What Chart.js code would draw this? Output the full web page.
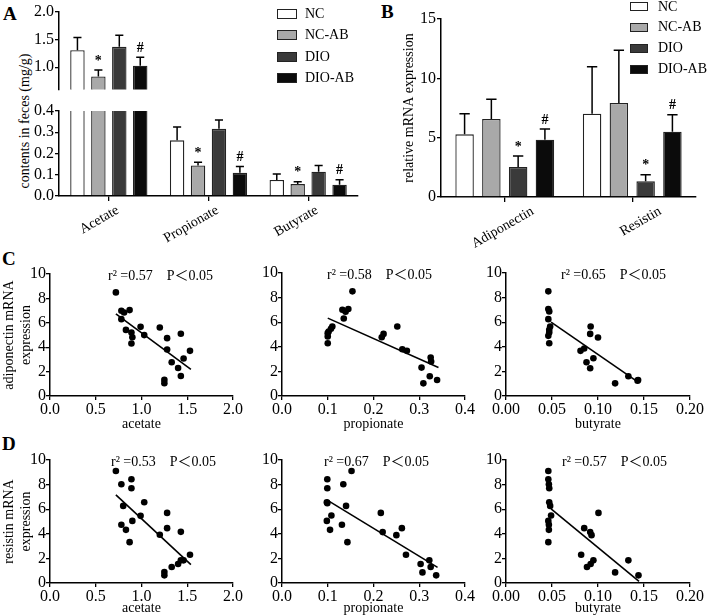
<!DOCTYPE html>
<html>
<head>
<meta charset="utf-8">
<script src="https://cdn.jsdelivr.net/npm/chart.js@4.4.0/dist/chart.umd.min.js"></script>
<style>
  body { margin: 0; background: #fff; }
  #wrap { position: relative; width: 709px; height: 616px; overflow: hidden; font-family: 'Liberation Serif', serif; color: #000; }
  #wrap canvas { position: absolute; }
  .letter { position: absolute; font-weight: bold; font-size: 19px; line-height: 1; }
  .ytitle { position: absolute; font-size: 14px; white-space: nowrap; transform: translate(-50%, -50%) rotate(-90deg); }
  .leg { position: absolute; font-size: 14px; line-height: 1; }
  .leg span.box { position: absolute; border: 1.3px solid #222; box-sizing: border-box; }
  .leg span.lab { position: absolute; white-space: nowrap; transform: translateY(-50%); }
</style>
</head>
<body>
<div id="wrap">
  <div class="letter" style="left:3px;top:4px">A</div>
  <div class="letter" style="left:381px;top:2px">B</div>
  <div class="letter" style="left:2px;top:249px">C</div>
  <div class="letter" style="left:2px;top:434px">D</div>
  <div class="ytitle" style="left:25px;top:121px">contents in feces (mg/g)</div>

  <canvas id="aTop" width="365" height="100" style="left:0;top:0"></canvas>
  <canvas id="aBottom" width="365" height="150" style="left:0;top:100px"></canvas>
  <canvas id="bChart" width="344" height="250" style="left:365px;top:0"></canvas>

  <canvas id="c1" width="245" height="183" style="left:0;top:250px"></canvas>
  <canvas id="c2" width="245" height="184" style="left:232px;top:249px"></canvas>
  <canvas id="c3" width="253" height="184" style="left:456px;top:249px"></canvas>
  <canvas id="d1" width="245" height="181" style="left:0;top:436px"></canvas>
  <canvas id="d2" width="245" height="181" style="left:232px;top:436px"></canvas>
  <canvas id="d3" width="253" height="181" style="left:456px;top:436px"></canvas>

  <div class="leg" id="legA"></div>
  <div class="leg" id="legB"></div>
</div>

<script>
// ---- data: panel A (short chain fatty acids) ----
const groups = ['NC', 'NC-AB', 'DIO', 'DIO-AB'];
const groupColors = ['#ffffff', '#a9a9a9', '#3a3a3a', '#0b0b0b'];

const acidLabels = ['Acetate', 'Propionate', 'Butyrate'];
const acidNC = [1.31, 0.262, 0.075];
const acidNCAB = [0.835, 0.144, 0.056];
const acidDIO = [1.37, 0.316, 0.114];
const acidDIOAB = [1.03, 0.109, 0.053];
const acidErrNC = [1.54, 0.325, 0.103];
const acidErrNCAB = [0.95, 0.159, 0.067];
const acidErrDIO = [1.58, 0.358, 0.144];
const acidErrDIOAB = [1.18, 0.139, 0.077];
const acidMarkNCAB = ['*', '*', '*'];
const acidMarkDIOAB = ['#', '#', '#'];

// ---- data: panel B (mRNA) ----
const geneLabels = ['Adiponectin', 'Resistin'];
const geneNC = [5.28, 7.02];
const geneNCAB = [6.57, 7.92];
const geneDIO = [2.53, 1.32];
const geneDIOAB = [4.83, 5.5];
const geneErrNC = [7.02, 10.98];
const geneErrNCAB = [8.23, 12.36];
const geneErrDIO = [3.46, 1.88];
const geneErrDIOAB = [5.73, 6.94];
const geneMarkDIO = ['*', '*'];
const geneMarkDIOAB = ['#', '#'];

// ---- data: panels C and D (correlations) ----
const c1X = [0.72, 0.78, 0.81, 0.87, 0.78, 0.83, 0.89, 0.90, 0.89, 0.99, 1.03, 1.20, 1.28, 1.28, 1.33, 1.43, 1.46, 1.40, 1.43, 1.53, 1.25, 1.25];
const c1Y = [8.49, 6.99, 6.85, 7.04, 6.30, 5.42, 5.21, 4.82, 4.30, 5.67, 4.99, 5.62, 4.74, 3.81, 2.77, 5.10, 3.07, 2.30, 1.64, 3.70, 1.32, 1.04];
const c2X = [0.100, 0.100, 0.100, 0.102, 0.107, 0.110, 0.132, 0.135, 0.139, 0.145, 0.154, 0.218, 0.222, 0.252, 0.263, 0.273, 0.305, 0.309, 0.325, 0.326, 0.323, 0.339];
const c2Y = [4.29, 4.84, 5.11, 5.24, 5.46, 5.65, 7.01, 6.30, 6.85, 7.07, 8.51, 4.78, 5.05, 5.65, 3.80, 3.67, 2.31, 1.03, 3.12, 2.80, 1.60, 1.30];
const c3X = [0.046, 0.046, 0.047, 0.046, 0.048, 0.047, 0.047, 0.046, 0.047, 0.092, 0.0915, 0.100, 0.081, 0.085, 0.095, 0.0875, 0.0915, 0.1186, 0.133, 0.1436, 0.143];
const c3Y = [8.51, 7.07, 6.88, 6.25, 5.65, 5.38, 5.16, 4.89, 4.29, 5.65, 5.05, 4.76, 3.67, 3.86, 3.07, 2.74, 2.26, 1.03, 1.60, 1.30, 1.25];
const d1X = [0.72, 0.78, 0.89, 0.89, 0.80, 0.78, 0.83, 0.87, 0.90, 0.99, 1.03, 1.20, 1.28, 1.28, 1.43, 1.25, 1.25, 1.33, 1.40, 1.43, 1.46, 1.53];
const d1Y = [9.11, 8.03, 8.43, 7.70, 6.27, 4.73, 4.32, 3.32, 5.05, 5.46, 6.57, 3.92, 5.70, 4.46, 4.16, 0.89, 0.62, 1.30, 1.54, 1.84, 1.84, 2.30];
const d2X = [0.099, 0.099, 0.098, 0.099, 0.098, 0.108, 0.105, 0.134, 0.140, 0.131, 0.143, 0.152, 0.216, 0.220, 0.250, 0.262, 0.271, 0.303, 0.307, 0.322, 0.325, 0.337];
const d2Y = [8.43, 7.70, 6.57, 6.49, 5.05, 5.49, 4.32, 8.03, 6.27, 4.73, 3.32, 9.11, 5.70, 4.14, 3.89, 4.46, 2.30, 1.54, 0.86, 1.84, 1.30, 0.62];
const d3X = [0.046, 0.046, 0.0466, 0.047, 0.047, 0.048, 0.049, 0.046, 0.0466, 0.0466, 0.046, 0.085, 0.0915, 0.093, 0.1005, 0.0817, 0.088, 0.092, 0.095, 0.1186, 0.133, 0.144];
const d3Y = [9.11, 8.43, 8.03, 7.70, 6.57, 6.27, 5.49, 5.05, 4.73, 4.32, 3.32, 4.46, 4.14, 3.89, 5.70, 2.30, 1.30, 1.54, 1.84, 0.86, 1.84, 0.62];

// regression line end points
const c1FitX = [0.72, 1.54], c1FitY = [6.74, 2.19];
const c2FitX = [0.100, 0.342], c2FitY = [6.33, 2.31];
const c3FitX = [0.049, 0.144], c3FitY = [6.0, 1.11];
const d1FitX = [0.72, 1.54], d1FitY = [7.16, 1.49];
const d2FitX = [0.098, 0.340], d2FitY = [6.76, 1.27];
const d3FitX = [0.049, 0.1446], d3FitY = [6.03, 0.14];

const rSquared = ['0.57', '0.58', '0.65', '0.53', '0.67', '0.57'];

const SERIF = 'Liberation Serif';
Chart.defaults.font.family = SERIF;
Chart.defaults.font.size = 15;
Chart.defaults.color = '#000';
Chart.defaults.animation = false;
Chart.defaults.plugins.legend.display = false;
Chart.defaults.plugins.tooltip.enabled = false;

const tickFont = { family: SERIF, size: 16 };
const titleFont = { family: SERIF, size: 14 };

// one-sided error bars plus * / # marks above them
const errorBars = {
  id: 'errorBars',
  afterDatasetsDraw(chart) {
    const { ctx, chartArea: area, scales: { y } } = chart;
    chart.data.datasets.forEach((ds, i) => {
      const meta = chart.getDatasetMeta(i);
      meta.data.forEach((bar, j) => {
        const yVal = y.getPixelForValue(ds.data[j]);
        const yErr = y.getPixelForValue(ds.errTop[j]);
        const cap = bar.width * 0.28;
        ctx.save();
        ctx.beginPath();
        ctx.rect(area.left, area.top, area.width, area.height);
        ctx.clip();
        ctx.strokeStyle = '#000';
        ctx.lineWidth = 1.5;
        ctx.beginPath();
        ctx.moveTo(bar.x, yVal);
        ctx.lineTo(bar.x, yErr);
        ctx.moveTo(bar.x - cap, yErr);
        ctx.lineTo(bar.x + cap, yErr);
        ctx.stroke();
        ctx.restore();
        const mark = ds.marks ? ds.marks[j] : '';
        if (mark && ds.errTop[j] >= y.min && ds.errTop[j] <= y.max) {
          ctx.save();
          ctx.fillStyle = '#000';
          ctx.font = 'bold 14px ' + SERIF;
          ctx.textAlign = 'center';
          ctx.textBaseline = 'bottom';
          ctx.fillText(mark, bar.x, yErr - 2);
          ctx.restore();
        }
      });
    });
  }
};

const axisGrid = { display: true, drawOnChartArea: false, drawTicks: true, tickLength: 4, color: '#000', lineWidth: 1.3 };
const axisBorder = { display: true, color: '#000', width: 1.5 };

function barDatasets(values, errs, marks) {
  return groups.map((g, k) => ({
    label: g,
    data: values[k],
    errTop: errs[k],
    marks: marks[k],
    backgroundColor: groupColors[k],
    borderColor: '#222',
    borderWidth: 1.3,
    categoryPercentage: 0.84,
    barPercentage: 0.69
  }));
}

const acidValues = [acidNC, acidNCAB, acidDIO, acidDIOAB];
const acidErrs = [acidErrNC, acidErrNCAB, acidErrDIO, acidErrDIOAB];
const acidMarks = [null, acidMarkNCAB, null, acidMarkDIOAB];

// Panel A, upper segment of the broken axis
new Chart(document.getElementById('aTop'), {
  type: 'bar',
  data: { labels: acidLabels, datasets: barDatasets(acidValues, acidErrs, acidMarks) },
  options: {
    responsive: false,
    layout: { padding: { top: 12, bottom: 3.3, right: 7, left: 0 } },
    scales: {
      x: { display: false },
      y: {
        min: 0.6, max: 2.0,
        afterBuildTicks: s => { s.ticks = [1.0, 1.5, 2.0].map(v => ({ value: v })); },
        afterFit: s => { s.width = 59; },
        ticks: { font: tickFont, padding: 1, autoSkip: false, callback: v => Number(v).toFixed(1) },
        grid: axisGrid, border: axisBorder
      }
    }
  },
  plugins: [errorBars]
});

// Panel A, lower segment
new Chart(document.getElementById('aBottom'), {
  type: 'bar',
  data: { labels: acidLabels, datasets: barDatasets(acidValues, acidErrs, acidMarks) },
  options: {
    responsive: false,
    layout: { padding: { top: 11, bottom: 0, right: 7, left: 0 } },
    scales: {
      x: {
        afterFit: s => { s.height = 54; },
        ticks: { font: titleFont, minRotation: 30, maxRotation: 30, padding: 1, labelOffset: 9 },
        grid: { ...axisGrid, offset: false, tickLength: 5 }, border: axisBorder
      },
      y: {
        min: 0, max: 0.4,
        afterFit: s => { s.width = 59; },
        ticks: { font: tickFont, stepSize: 0.1, padding: 1, autoSkip: false, callback: v => Number(v).toFixed(1) },
        grid: axisGrid, border: axisBorder
      }
    }
  },
  plugins: [errorBars]
});

// Panel B
new Chart(document.getElementById('bChart'), {
  type: 'bar',
  data: {
    labels: geneLabels,
    datasets: barDatasets([geneNC, geneNCAB, geneDIO, geneDIOAB],
      [geneErrNC, geneErrNCAB, geneErrDIO, geneErrDIOAB],
      [null, null, geneMarkDIO, geneMarkDIOAB])
  },
  options: {
    responsive: false,
    layout: { padding: { top: 19, bottom: 0, right: 13, left: 0 } },
    scales: {
      x: {
        afterFit: s => { s.height = 53; },
        ticks: { font: titleFont, minRotation: 30, maxRotation: 30, padding: 1, labelOffset: 28 },
        grid: { ...axisGrid, offset: false, tickLength: 5 }, border: axisBorder
      },
      y: {
        min: 0, max: 15,
        afterFit: s => { s.width = 76; },
        ticks: { font: tickFont, stepSize: 5, padding: 1, autoSkip: false },
        title: { display: true, text: 'relative mRNA expression', font: titleFont, padding: { top: 36, bottom: 0 } },
        grid: axisGrid, border: axisBorder
      }
    }
  },
  plugins: [errorBars]
});

// r² annotation at the top of each scatter panel
const r2Label = {
  id: 'r2Label',
  afterDraw(chart, args, opts) {
    const { ctx, chartArea } = chart;
    ctx.save();
    ctx.fillStyle = '#000';
    ctx.font = "14px 'Liberation Serif', 'Noto Sans CJK SC'";
    ctx.textBaseline = 'middle';
    ctx.textAlign = 'left';
    ctx.fillText('r\u00B2 =' + opts.r2 + '    P\uFF1C0.05', chartArea.left + opts.dx, chartArea.top + 2);
    ctx.restore();
  }
};

function scatter(id, xs, ys, fitX, fitY, xMax, xStep, xDec, xTitle, yTitle, r2, dx, xh) {
  new Chart(document.getElementById(id), {
    type: 'scatter',
    data: {
      datasets: [
        {
          data: xs.map((x, i) => ({ x: x, y: ys[i] })),
          pointRadius: 3.3, pointBackgroundColor: '#000', pointBorderWidth: 0
        },
        {
          type: 'line',
          data: fitX.map((x, i) => ({ x: x, y: fitY[i] })),
          borderColor: '#000', borderWidth: 1.6, pointRadius: 0, showLine: true
        }
      ]
    },
    options: {
      responsive: false,
      layout: { padding: { top: 24, bottom: 0, left: 0, right: id.endsWith('3') ? 19 : 12 } },
      plugins: { r2Label: { r2: r2, dx: dx } },
      scales: {
        x: {
          type: 'linear', min: 0, max: xMax,
          afterFit: s => { s.height = xh; },
          ticks: { font: tickFont, stepSize: xStep, padding: 0, autoSkip: false, callback: v => Number(v).toFixed(xDec) },
          title: { display: true, text: xTitle, font: titleFont, padding: 0 },
          grid: axisGrid, border: axisBorder
        },
        y: {
          min: 0, max: 10,
          afterFit: s => { s.width = 50; },
          ticks: { font: tickFont, stepSize: 2, padding: 0, autoSkip: false },
          title: { display: !!yTitle, text: yTitle || '', font: titleFont, padding: { top: 1, bottom: 0 } },
          grid: axisGrid, border: axisBorder
        }
      }
    },
    plugins: [r2Label]
  });
}

scatter('c1', c1X, c1Y, c1FitX, c1FitY, 2.0, 0.5, 1, 'acetate', ['adiponectin mRNA', 'expression'], rSquared[0], 58, 37);
scatter('c2', c2X, c2Y, c2FitX, c2FitY, 0.4, 0.1, 1, 'propionate', null, rSquared[1], 45, 37);
scatter('c3', c3X, c3Y, c3FitX, c3FitY, 0.2, 0.05, 2, 'butyrate', null, rSquared[2], 55, 37);
scatter('d1', d1X, d1Y, d1FitX, d1FitY, 2.0, 0.5, 1, 'acetate', ['resistin mRNA', 'expression'], rSquared[3], 61, 34);
scatter('d2', d2X, d2Y, d2FitX, d2FitY, 0.4, 0.1, 1, 'propionate', null, rSquared[4], 42, 34);
scatter('d3', d3X, d3Y, d3FitX, d3FitY, 0.2, 0.05, 2, 'butyrate', null, rSquared[5], 56, 34);

// legends for A and B
function legend(id, left, top, rowGap, boxW, boxH, textDx) {
  const el = document.getElementById(id);
  el.style.left = left + 'px';
  el.style.top = top + 'px';
  groups.forEach((g, k) => {
    const cy = k * rowGap;
    const box = document.createElement('span');
    box.className = 'box';
    box.style.cssText = `left:0;top:${cy - boxH / 2}px;width:${boxW}px;height:${boxH}px;background:${groupColors[k]}`;
    const lab = document.createElement('span');
    lab.className = 'lab';
    lab.style.cssText = `left:${textDx}px;top:${cy}px`;
    lab.textContent = g;
    el.appendChild(box);
    el.appendChild(lab);
  });
}
legend('legA', 277, 14, 21.3, 20, 10, 28);
legend('legB', 630, 6.5, 20.9, 18, 9, 28);
</script>
</body>
</html>
